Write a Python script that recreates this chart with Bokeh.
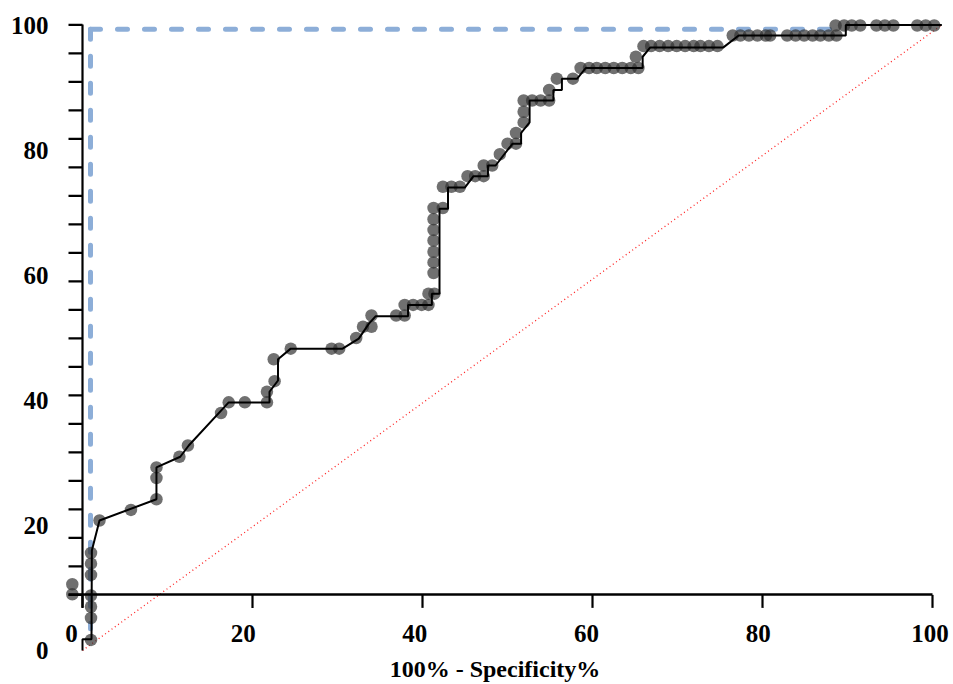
from bokeh.plotting import figure
from bokeh.models import LinearAxis, FixedTicker, Range1d, CustomJSTickFormatter
from bokeh.embed import file_html
from bokeh.resources import INLINE

# ---- data (x = 100% - Specificity%, y = Sensitivity%) ----
pts_x = [-1.2, -1.2,
         1.0, 1.0, 1.0, 1.0, 1.0, 1.0, 1.0,
         2.0, 5.7, 8.7, 8.7, 8.7, 11.4, 12.4, 16.3, 17.2, 19.1, 21.7, 21.7, 22.6, 22.5, 24.5,
         29.3, 30.2, 32.2, 33.0, 34.0, 34.0, 36.9, 37.9, 37.9, 38.9, 39.9, 40.7, 40.7, 41.4,
         41.3, 41.3, 41.3, 41.3, 41.3, 41.3, 41.3,
         42.4, 42.4, 43.4, 44.4, 45.3, 46.2, 47.2, 47.2, 48.2, 49.1, 50.0, 51.0, 51.0,
         51.9, 51.9, 51.9, 52.9, 53.9, 54.9, 54.9, 55.8, 57.7, 58.6,
         59.6, 60.5, 61.5, 62.5, 63.5, 64.5, 65.4, 65.1, 66.0,
         66.9, 67.9, 68.9, 69.9, 70.9, 71.9, 72.7, 73.7, 74.7,
         76.5, 77.4, 78.4, 79.4, 80.4, 80.9, 82.9, 83.9, 84.9, 85.9, 86.8, 87.8, 88.7,
         88.6, 89.6, 90.5, 91.5, 93.4, 94.4, 95.4, 98.2, 99.2, 100.2]
pts_y = [10.6, 9.0,
         15.6, 13.9, 12.1, 8.8, 7.0, 5.2, 1.7,
         20.8, 22.5, 24.2, 27.6, 29.3, 31.0, 32.8, 38.0, 39.7, 39.7, 39.7, 41.4, 43.1, 46.6, 48.3,
         48.3, 48.3, 50.0, 51.8, 51.8, 53.6, 53.6, 53.6, 55.3, 55.3, 55.3, 55.3, 57.1, 57.1,
         60.4, 62.1, 63.8, 65.6, 67.3, 69.0, 70.8,
         70.8, 74.2, 74.2, 74.2, 75.9, 75.9, 75.9, 77.6, 77.6, 79.4, 81.1, 81.1, 82.8,
         84.5, 86.2, 88.0, 88.0, 88.0, 88.0, 89.7, 91.5, 91.5, 93.2,
         93.2, 93.2, 93.2, 93.2, 93.2, 93.2, 93.2, 95.0, 96.7,
         96.7, 96.7, 96.7, 96.7, 96.7, 96.7, 96.7, 96.7, 96.7,
         98.4, 98.4, 98.4, 98.4, 98.4, 98.4, 98.4, 98.4, 98.4, 98.4, 98.4, 98.4, 98.4,
         100.0, 100.0, 100.0, 100.0, 100.0, 100.0, 100.0, 100.0, 100.0, 100.0]

roc_x = [0.0, 0.0, 1.06, 1.1, 2.0, 8.7, 8.7, 11.5, 12.5, 17.2, 22.0, 22.0, 23.0, 23.0, 24.5,
         30.6, 32.5, 33.7, 34.5, 38.3, 38.3, 41.1, 41.1, 42.0, 42.0, 43.0, 43.0, 45.0, 46.0,
         47.7, 47.7, 48.6, 50.6, 51.6, 51.6, 52.6, 52.6, 55.4, 55.4, 56.4, 56.4, 58.2, 59.2,
         65.9, 65.9, 66.8, 75.4, 77.2, 89.8, 89.8, 101.1]
roc_y = [0.0, 1.8, 1.8, 16.0, 20.8, 24.2, 29.3, 31.0, 32.8, 39.7, 39.7, 41.4, 43.2, 46.6, 48.3,
         48.3, 49.9, 52.3, 53.5, 53.5, 55.3, 55.3, 57.1, 57.1, 70.7, 70.7, 74.1, 74.1, 75.9,
         75.9, 77.6, 77.6, 81.1, 81.1, 82.8, 84.5, 88.0, 88.0, 89.7, 89.7, 91.5, 91.5, 93.2,
         93.2, 95.0, 96.5, 96.5, 98.4, 98.4, 100.1, 100.1]

ref_x = [0, 101]          # chance line
ref_y = [0, 100]
cut_xs = [[0.94, 0.94], [0.94, 88.6]]     # dashed cut-off guide
cut_ys = [[99.4, 3.5], [99.4, 99.4]]

x_ticks = [0, 20, 40, 60, 80, 100]
x_tick_labels = ["0", "20", "40", "60", "80", "100"]
x_label_pos = [-1.3, 18.9, 39.1, 59.3, 79.5, 99.7]
y_labels = [0, 20, 40, 60, 80, 100]
y_tick_marks = [round(8.91 + 4.56 * k, 2) for k in range(21)]
x_axis_at = 8.9
y_axis_at = 0

# scale of the frame: 8.5 px per x unit, 6.25 px per y unit
PX_X, PX_Y = 8.5, 6.25
Y_TICK_LEN = 14 / PX_X     # left-pointing ticks on the y axis
X_TICK_LEN = 13 / PX_Y     # down-pointing ticks on the x axis

FONT = "Liberation Serif"
blank = CustomJSTickFormatter(code="return ''")

p = figure(width=952, height=683, title=None,
           x_range=Range1d(-82 / PX_X, 870 / PX_X), y_range=Range1d(-33 / PX_Y, 650 / PX_Y),
           output_backend="svg", toolbar_location=None,
           x_axis_location=None, y_axis_location=None,
           min_border_left=0, min_border_right=0, min_border_top=0, min_border_bottom=0)
p.grid.visible = False
p.outline_line_color = None
p.background_fill_color = "white"
p.border_fill_color = "white"

p.line(ref_x, ref_y, line_color="#ff2020", line_width=1.3, line_dash="1 3")
p.multi_line(cut_xs, cut_ys, line_color="#8DAED8", line_width=5, line_dash="10 17",
             line_cap="round")
p.scatter(pts_x, pts_y, size=12.5, fill_color="#333333", fill_alpha=0.7, line_color=None)
p.line(roc_x, roc_y, line_color="black", line_width=2)

# tick marks of the two axes (drawn as short paths at the axis positions)
tick_xs = ([[y_axis_at - Y_TICK_LEN, y_axis_at] for _ in y_tick_marks] +
           [[t, t] for t in x_ticks])
tick_ys = ([[t, t] for t in y_tick_marks] +
           [[x_axis_at, x_axis_at - X_TICK_LEN] for _ in x_ticks])
p.multi_line(tick_xs, tick_ys, line_color="black", line_width=2.2)

# y axis: line
ya = LinearAxis(fixed_location=y_axis_at, bounds=(6.88, 100.2), ticker=FixedTicker(ticks=y_tick_marks),
                formatter=blank, major_tick_line_color=None, minor_tick_line_color=None,
                axis_line_width=2.2)
# y axis: labels
yl = LinearAxis(fixed_location=y_axis_at, ticker=FixedTicker(ticks=y_labels),
                axis_line_color=None, major_tick_line_color=None, minor_tick_line_color=None,
                major_tick_out=0, major_tick_in=0, major_label_standoff=34,
                major_label_text_font=FONT, major_label_text_font_size="25px",
                major_label_text_font_style="bold", major_label_text_color="black")
p.add_layout(ya, "left")
p.add_layout(yl, "left")

# x axis: line
xa = LinearAxis(fixed_location=x_axis_at, bounds=(-1.65, 100), ticker=FixedTicker(ticks=x_ticks),
                formatter=blank, major_tick_line_color=None, minor_tick_line_color=None,
                axis_line_width=2.5)
# x axis: labels and title
xl = LinearAxis(fixed_location=x_axis_at, bounds=(-3, 100), ticker=FixedTicker(ticks=x_label_pos),
                major_label_overrides={pos: lab for pos, lab in zip(x_label_pos, x_tick_labels)},
                axis_line_color=None, major_tick_line_color=None, minor_tick_line_color=None,
                major_tick_out=0, major_tick_in=0, major_label_standoff=30,
                major_label_text_font=FONT, major_label_text_font_size="25px",
                major_label_text_font_style="bold", major_label_text_color="black",
                axis_label="100% - Specificity%", axis_label_standoff=11,
                axis_label_text_font=FONT, axis_label_text_font_size="24px",
                axis_label_text_font_style="bold", axis_label_text_color="black")
p.add_layout(xa, "below")
p.add_layout(xl, "below")

open("out.html", "w").write(file_html(p, INLINE))
